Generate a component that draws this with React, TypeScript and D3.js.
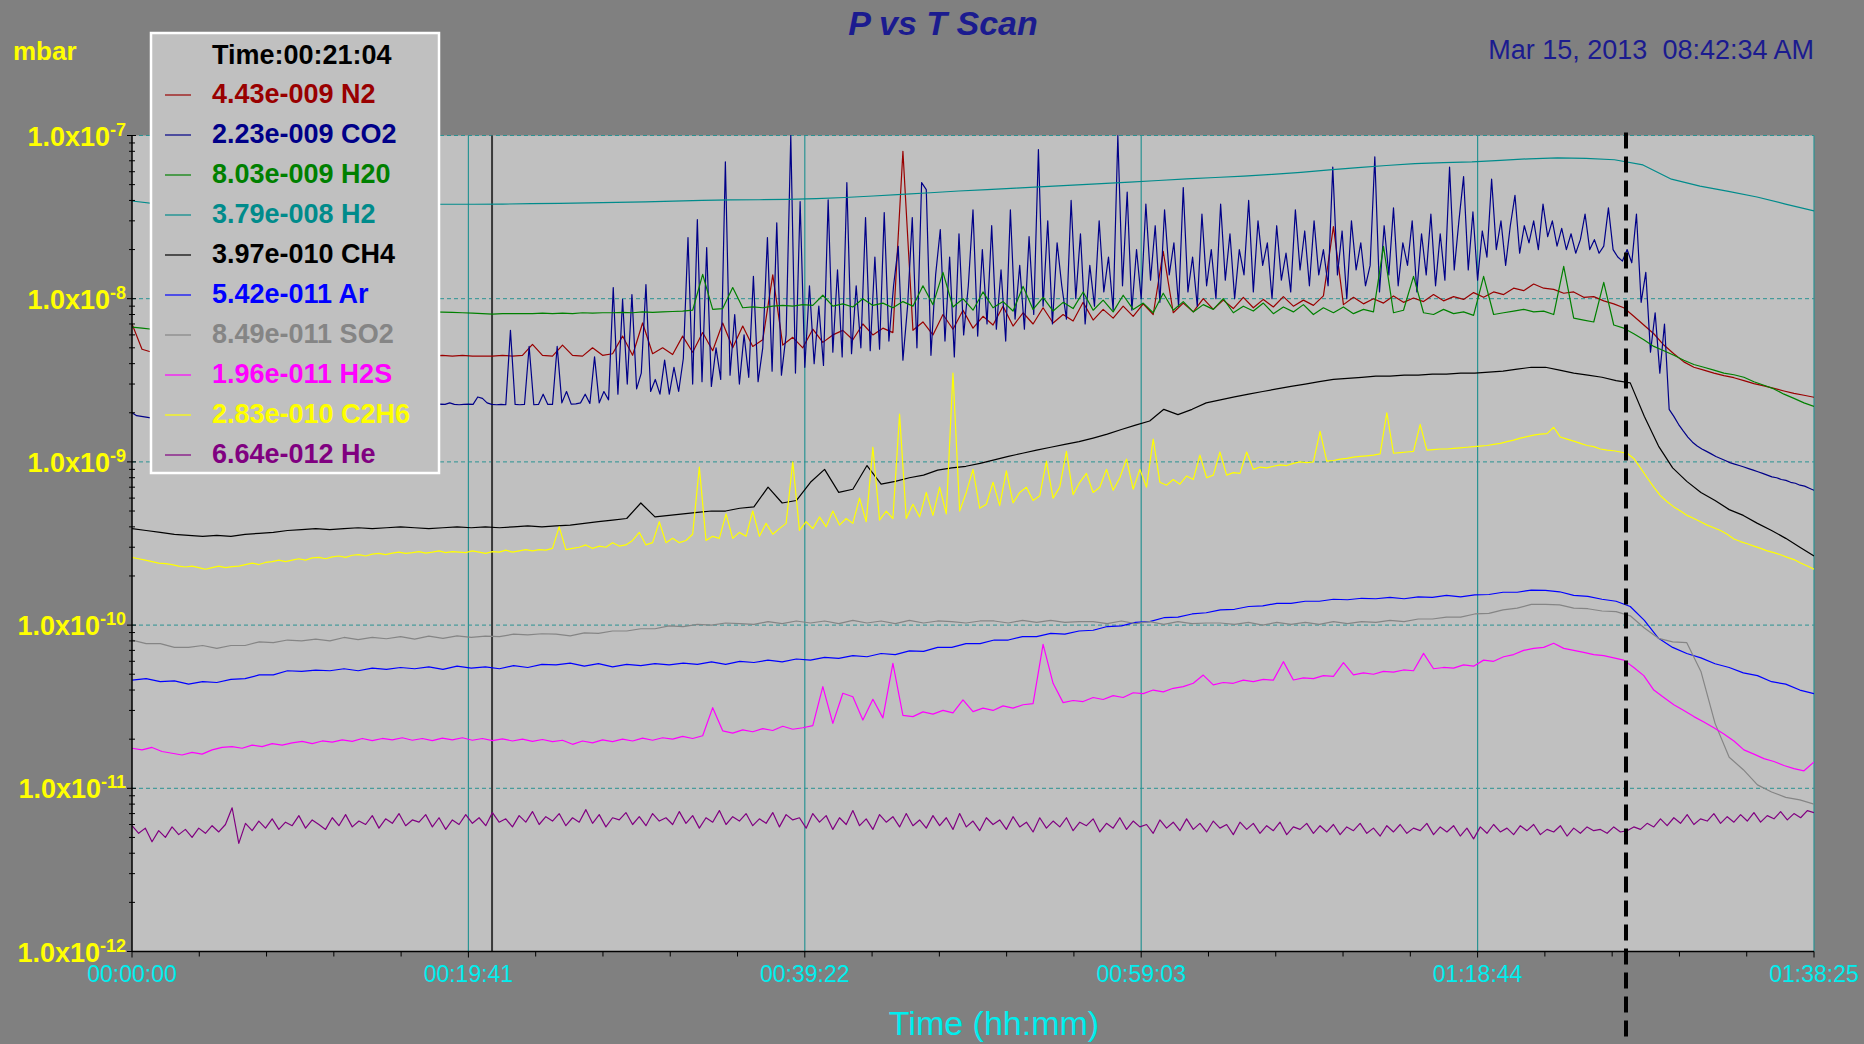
import React from "react"
import * as d3 from "d3"

// scan length and axis labels (hh:mm:ss)
const DURATION_SEC = 5905
const TIME_LABELS = ["00:00:00", "00:19:41", "00:39:22", "00:59:03", "01:18:44", "01:38:25"]
const DECADES = [-7, -8, -9, -10, -11, -12]
const CURSOR_TIME = "00:21:04"
const MARKER_SEC = 5245

// readings shown in the legend at the cursor time
const GASES = ["N2", "CO2", "H20", "H2", "CH4", "Ar", "SO2", "H2S", "C2H6", "He"]
const READINGS = ["4.43e-009", "2.23e-009", "8.03e-009", "3.79e-008", "3.97e-010", "5.42e-011", "8.49e-011", "1.96e-011", "2.83e-010", "6.64e-012"]
const COLORS = ["#990000", "#000088", "#008000", "#008b8b", "#000000", "#0000ff", "#858585", "#ff00ff", "#ffff00", "#800080"]
const UNITS = [1e-9, 1e-9, 1e-9, 1e-8, 1e-10, 1e-11, 1e-11, 1e-11, 1e-10, 1e-12]

// pressures, evenly sampled over the scan, in the unit given above
const N2 = [
  7.0, 4.9, 4.7, 4.8, 4.7, 4.75, 4.7, 4.8, 4.7, 4.65,
  4.7, 4.6, 4.65, 4.6, 4.65, 4.6, 4.55, 4.6, 4.55, 4.6,
  4.55, 4.6, 4.55, 4.5, 4.55, 4.5, 4.55, 4.5, 4.45, 4.5,
  4.45, 4.5, 4.45, 4.5, 4.45, 4.45, 4.45, 4.5, 4.45, 4.5,
  5.25, 4.5, 4.45, 5.2, 4.5, 4.45, 5.0, 4.5, 4.6, 5.9,
  4.5, 7.1, 4.6, 5.0, 4.55, 5.9, 4.7, 6.2, 4.8, 7.1,
  5.0, 6.8, 5.1, 5.6, 14, 5.2, 5.8, 5.0, 6.5, 5.4,
  6.0, 6.4, 5.6, 7.0, 6.0, 6.6, 6.2, 80, 6.4, 7.2,
  6.0, 8.0, 6.5, 8.5, 6.6, 7.8, 6.9, 9.0, 6.8, 8.2,
  7.0, 8.8, 7.1, 8.0, 7.3, 9.5, 7.4, 8.6, 7.6, 9.0,
  7.8, 9.3, 8.0, 19.5, 8.2, 9.4, 8.3, 10.0, 8.6, 9.8,
  8.7, 10.2, 8.8, 9.9, 8.9, 10.3, 9.0, 9.8, 9.1, 10.4,
  27.7, 9.2, 10.2, 9.3, 10.0, 9.4, 10.4, 9.5, 10.1, 9.6,
  10.6, 9.7, 10.3, 9.9, 10.9, 10.2, 11.0, 10.6, 11.6, 11.2,
  12.3, 11.6, 11.4, 10.8, 11.0, 10.2, 10.3, 9.7, 9.3, 8.8,
  7.8, 6.9, 6.1, 5.2, 4.6, 4.1, 3.8, 3.65, 3.5, 3.38,
  3.28, 3.15, 3.02, 2.92, 2.82, 2.72, 2.63, 2.56, 2.49,
]

const CO2 = [
  2.0, 1.92, 1.9, 1.88, 1.86, 1.84, 1.83, 1.84, 1.85, 1.86,
  1.88, 1.9, 1.91, 1.92, 1.94, 1.95, 1.97, 1.98, 2.0, 2.01,
  2.02, 2.03, 2.04, 2.06, 2.07, 2.08, 2.1, 2.11, 2.12, 2.13,
  2.14, 2.15, 2.16, 2.17, 2.18, 2.18, 2.19, 2.2, 2.2, 2.21,
  2.21, 2.22, 2.22, 2.23, 2.23, 2.23, 2.24, 2.24, 2.24, 2.25,
  2.25, 2.24, 2.25, 2.25, 2.24, 2.25, 2.26, 2.25, 2.25, 2.24,
  2.25, 2.26, 2.25, 2.25, 2.24, 2.25, 2.26, 2.25, 2.3, 2.25,
  2.24, 2.25, 2.26, 2.25, 2.5, 2.45, 2.3, 2.25, 2.24, 2.25,
  2.24, 6.4, 2.25, 2.24, 2.25, 5.1, 2.24, 2.25, 2.6, 2.25,
  2.25, 5.1, 2.3, 2.7, 2.26, 2.27, 2.3, 2.6, 2.28, 4.4,
  2.3, 2.7, 2.4, 11.7, 2.6, 9.9, 3.0, 10.6, 2.8, 3.5,
  12.2, 2.7, 3.2, 2.6, 4.2, 2.6, 3.8, 2.7, 4.3, 23.7,
  3.0, 30.5, 3.1, 20.6, 2.9, 5.0, 3.2, 69, 3.4, 8.0,
  3.0, 6.0, 3.3, 13.7, 3.1, 5.0, 23.7, 3.6, 29.2, 3.4,
  6.0, 100, 3.5, 39.3, 3.8, 12, 4.0, 9.0, 3.9, 40.4,
  4.7, 15, 4.4, 51.4, 4.6, 12, 5.0, 31.4, 4.8, 18,
  4.9, 33.7, 5.5, 12, 20.9, 4.2, 9, 31.4, 5.0, 51.4,
  46.6, 4.5, 14, 26.5, 5.5, 18, 4.4, 25, 6.0, 12,
  35, 5.9, 20, 7.0, 28, 6.5, 15, 5.5, 35, 7.5,
  16, 6.5, 24, 8, 82, 9, 30, 7, 22, 12,
  7.5, 40, 10, 25, 7, 16, 9, 30, 11, 18,
  8.5, 100, 12, 45, 8.5, 20, 10, 38, 13, 28,
  9.5, 35, 14, 22, 9, 48, 11, 18, 9, 33,
  12, 20, 10, 38, 13, 25, 10, 20, 14, 40,
  11, 30, 16, 22, 10, 28, 13, 19, 11, 35,
  15, 26, 12, 30, 14, 20, 12, 64, 14, 26,
  10, 30, 15, 22, 12, 16, 74, 11, 28, 14,
  36, 12, 22, 16, 30, 11, 25, 14, 33, 12,
  25, 13, 64, 15, 30, 56, 15, 34, 13, 26,
  18, 54, 20, 30, 16, 28, 43, 19, 28, 22,
  30, 20, 38, 24, 30, 21, 27, 20, 25, 19,
  23, 33, 20, 23, 19, 21, 36, 20, 18, 17,
  20, 16.6, 33, 9.5, 14.5, 4.7, 8.2, 3.5, 7.0, 2.1,
  1.9, 1.7, 1.55, 1.42, 1.32, 1.25, 1.2, 1.16, 1.12, 1.08,
  1.05, 1.02, 0.99, 0.97, 0.95, 0.93, 0.91, 0.89, 0.87, 0.85,
  0.83, 0.81, 0.8, 0.78, 0.77, 0.75, 0.74, 0.72, 0.71, 0.69,
  0.67,
]

const H2O = [
  6.7, 6.6, 6.5, 6.6, 6.7, 6.8, 6.9, 7.0, 7.1, 7.2,
  7.3, 7.4, 7.5, 7.6, 7.7, 7.8, 7.9, 8.0, 8.05, 8.1,
  8.1, 8.15, 8.2, 8.2, 8.25, 8.25, 8.3, 8.3, 8.3, 8.3,
  8.3, 8.28, 8.25, 8.2, 8.15, 8.1, 8.05, 8.1, 8.1, 8.1,
  8.1, 8.15, 8.1, 8.15, 8.1, 8.2, 8.15, 8.2, 8.2, 8.25,
  8.2, 8.3, 8.25, 8.3, 8.35, 8.4, 8.5, 14.1, 8.6, 8.7,
  11.7, 8.8, 8.9, 8.8, 9.0, 9.1, 9.0, 9.2, 9.1, 10.5,
  9.0, 9.3, 8.9, 10.0, 9.1, 9.4, 8.8, 9.6, 9.0, 12.0,
  9.2, 14.5, 8.9, 10.0, 8.5, 11.0, 8.8, 9.6, 8.4, 11.9,
  8.6, 10.2, 8.4, 9.5, 8.7, 11.0, 8.5, 9.8, 8.3, 10.5,
  8.6, 9.4, 8.2, 10.8, 8.5, 9.6, 8.3, 9.2, 8.6, 10.0,
  8.2, 9.0, 8.4, 9.4, 8.1, 8.9, 8.3, 9.2, 8.0, 8.8,
  8.2, 8.9, 8.1, 8.6, 8.3, 20.9, 8.2, 8.5, 13.7, 8.2,
  8.0, 8.6, 8.1, 8.3, 7.9, 13.7, 8.0, 8.2, 8.4, 8.6,
  8.3, 8.4, 8.0, 15.8, 7.6, 7.4, 7.2, 12.6, 6.9, 6.6,
  6.1, 5.6, 5.1, 4.8, 4.5, 4.2, 3.95, 3.8, 3.65, 3.5,
  3.42, 3.3, 3.1, 2.95, 2.8, 2.6, 2.45, 2.3, 2.19,
]

const H2 = [
  3.97, 3.78, 3.74, 3.75, 3.76, 3.76, 3.77, 3.77, 3.78, 3.78,
  3.79, 3.79, 3.79, 3.8, 3.82, 3.84, 3.86, 3.89, 3.92, 3.96,
  4.0, 4.03, 4.04, 4.06, 4.1, 4.17, 4.26, 4.36, 4.46, 4.57,
  4.66, 4.76, 4.86, 4.96, 5.07, 5.18, 5.3, 5.42, 5.53, 5.64,
  5.78, 5.95, 6.15, 6.35, 6.55, 6.72, 6.82, 6.9, 7.05, 7.2,
  7.3, 7.25, 7.1, 6.6, 5.4, 4.9, 4.55, 4.2, 3.8, 3.45,
]

const CH4 = [
  3.9, 3.8, 3.7, 3.6, 3.55, 3.5, 3.55, 3.5, 3.6, 3.65,
  3.7, 3.8, 3.85, 3.9, 3.85, 3.9, 3.95, 3.9, 3.95, 4.0,
  3.95, 3.9, 3.95, 4.0, 3.95, 4.0, 3.95, 4.0, 4.05, 4.0,
  4.05, 4.1, 4.2, 4.3, 4.4, 4.5, 5.6, 4.6, 4.7, 4.8,
  4.9, 5.0, 5.0, 5.2, 5.3, 7.0, 5.6, 5.8, 7.5, 9.0,
  6.5, 6.8, 9.5, 7.3, 7.6, 8.0, 8.3, 8.9, 9.2, 9.4,
  9.8, 10.3, 10.8, 11.3, 11.8, 12.3, 12.8, 13.3, 14.0, 14.8,
  15.8, 16.8, 17.8, 21, 19.5, 21, 23, 24, 25, 26,
  27, 28, 29, 30, 31, 32, 32.5, 33, 33.5, 33.5,
  34, 34, 34.5, 34.5, 35, 35, 35.5, 36, 37, 38,
  38, 36.5, 35, 34, 33, 31.5, 30.5, 19, 12.5, 9.2,
  7.6, 6.5, 5.8, 5.1, 4.7, 4.2, 3.8, 3.4, 3.0, 2.65,
]

const AR = [
  4.6, 4.7, 4.5, 4.55, 4.35, 4.5, 4.45, 4.65, 4.7, 4.95,
  4.95, 5.25, 5.2, 5.3, 5.25, 5.4, 5.25, 5.45, 5.35, 5.5,
  5.4, 5.55, 5.35, 5.6, 5.45, 5.55, 5.4, 5.65, 5.5, 5.75,
  5.7, 5.85, 5.6, 5.8, 5.55, 5.75, 5.65, 5.8, 5.7, 5.85,
  5.75, 5.95, 5.75, 6.0, 5.9, 6.1, 5.95, 6.2, 6.1, 6.35,
  6.25, 6.5, 6.4, 6.7, 6.6, 6.95, 6.9, 7.3, 7.3, 7.7,
  7.7, 8.1, 8.1, 8.5, 8.5, 8.9, 8.8, 9.2, 9.3, 9.8,
  9.9, 10.4, 10.5, 11.1, 11.2, 11.7, 11.9, 12.4, 12.5, 13.0,
  13.1, 13.6, 13.6, 14.0, 14.0, 14.4, 14.3, 14.6, 14.5, 14.8,
  14.5, 14.9, 14.8, 15.2, 14.9, 15.3, 15.4, 15.9, 15.9, 16.4,
  16.3, 16.0, 15.2, 15.0, 14.4, 14.0, 13.0, 10.7, 8.3, 7.3,
  6.7, 6.3, 5.8, 5.5, 5.1, 4.9, 4.5, 4.35, 4.0, 3.8,
]

const SO2 = [
  8.1, 7.7, 7.7, 7.3, 7.3, 7.5, 7.2, 7.5, 7.5, 7.9,
  7.8, 8.1, 8.0, 8.2, 8.0, 8.4, 8.15, 8.4, 8.25, 8.5,
  8.2, 8.55, 8.3, 8.6, 8.4, 8.55, 8.5, 8.8, 8.7, 8.85,
  8.8, 8.6, 8.95, 8.9, 9.2, 9.2, 9.5, 9.5, 9.9, 9.8,
  10.1, 10.0, 10.3, 10.2, 10.1, 10.5, 10.2, 10.6, 10.3, 10.6,
  10.2, 10.7, 10.3, 10.6, 10.2, 10.7, 10.3, 10.6, 10.5, 10.3,
  10.6, 10.6, 10.3, 10.7, 10.4, 10.7, 10.4, 10.5, 10.5, 10.2,
  10.6, 10.2, 10.5, 10.1, 10.5, 10.2, 10.3, 10.3, 10.1, 10.4,
  10.0, 10.4, 10.1, 10.4, 10.1, 10.5, 10.2, 10.5, 10.4, 10.7,
  10.5, 10.9, 10.9, 11.2, 11.2, 11.7, 11.8, 12.4, 12.7, 13.4,
  13.4, 13.3, 12.7, 12.6, 12.2, 12.1, 11.4, 9.6, 8.3, 7.9,
  7.8, 5.2, 2.5, 1.55, 1.3, 1.05, 0.95, 0.88, 0.85, 0.8,
]

const H2S = [
  1.76, 1.72, 1.78, 1.68, 1.64, 1.6, 1.66, 1.62, 1.72, 1.78,
  1.8, 1.76, 1.84, 1.8, 1.88, 1.84, 1.9, 1.94, 1.88, 1.95,
  1.92, 1.98, 1.94, 2.02, 1.96, 2.02, 1.98, 2.04, 1.97, 2.02,
  1.96, 2.03, 1.98, 2.04, 1.97, 2.02, 1.96, 2.01, 1.95, 2.0,
  1.94, 1.99, 1.93, 1.97, 1.86, 1.95, 1.9, 1.98, 1.93, 2.0,
  1.95, 2.03, 1.97, 2.04, 2.0, 2.08, 2.02, 2.1, 3.12, 2.25,
  2.18, 2.28, 2.22, 2.32, 2.26, 2.4, 2.3, 2.35, 2.42, 4.2,
  2.5, 3.82, 3.64, 2.62, 3.51, 2.7, 5.83, 2.8, 2.75, 2.94,
  2.85, 3.0, 2.9, 3.48, 2.95, 3.1, 3.0, 3.2, 3.1, 3.25,
  3.3, 7.62, 4.4, 3.35, 3.45, 3.4, 3.6, 3.5, 3.7, 3.6,
  3.85, 3.8, 4.0, 3.9, 4.1, 4.2, 4.4, 4.94, 4.3, 4.45,
  4.4, 4.6, 4.5, 4.65, 4.6, 5.97, 4.61, 4.75, 4.7, 4.9,
  4.85, 5.89, 4.95, 5.1, 5.0, 5.2, 5.15, 5.31, 5.25, 6.71,
  5.4, 5.5, 5.45, 5.7, 5.6, 6.1, 6.0, 6.4, 6.6, 7.0,
  7.2, 7.3, 7.74, 7.2, 7.0, 6.8, 6.6, 6.5, 6.3, 6.1,
  5.5, 4.9, 4.0, 3.6, 3.25, 3.0, 2.75, 2.55, 2.35, 2.15,
  1.95, 1.72, 1.62, 1.52, 1.46, 1.38, 1.32, 1.28, 1.45,
]

const C2H6 = [
  2.6, 2.55, 2.5, 2.45, 2.4, 2.38, 2.35, 2.3, 2.27, 2.3,
  2.25, 2.2, 2.25, 2.3, 2.25, 2.28, 2.3, 2.35, 2.4, 2.35,
  2.42, 2.45, 2.5, 2.45, 2.5, 2.55, 2.5, 2.58, 2.6, 2.55,
  2.62, 2.65, 2.6, 2.68, 2.7, 2.65, 2.72, 2.75, 2.7, 2.76,
  2.8, 2.75, 2.78, 2.82, 2.76, 2.8, 2.85, 2.78, 2.82, 2.8,
  2.78, 2.85, 2.8, 2.75, 2.82, 2.8, 2.88, 2.8, 2.85, 2.9,
  2.85, 2.9, 2.88, 2.95, 4.0, 2.9, 2.95, 3.0, 3.1, 2.95,
  3.05, 3.0, 3.2, 3.05, 3.1, 3.3, 3.7, 3.1, 3.2, 4.3,
  3.2, 3.4, 3.2, 3.3, 3.6, 9.3, 3.3, 3.5, 3.4, 4.8,
  3.4, 3.7, 3.5, 5.0, 3.5, 4.2, 3.6, 3.9, 4.2, 10.0,
  3.8, 4.3, 3.9, 4.6, 4.0, 5.0, 4.1, 4.5, 4.2, 6.0,
  4.3, 12.3, 4.4, 5.0, 4.5, 19.6, 4.5, 5.5, 4.6, 6.5,
  4.7, 7.0, 4.8, 35, 5.0, 6.5, 9.0, 5.2, 5.5, 7.5,
  5.4, 8.8, 5.6, 6.5, 7.0, 5.8, 6.2, 10.1, 6.0, 7.0,
  11.6, 6.3, 7.5, 8.5, 6.5, 7.0, 9.0, 6.7, 8.0, 10.4,
  6.8, 9.0, 7.0, 13.8, 7.5, 7.2, 7.8, 7.3, 8.2, 7.8,
  11.0, 8.0, 8.3, 11.5, 8.3, 8.6, 8.5, 11.5, 9.0, 9.3,
  9.2, 9.4, 9.6, 9.5, 9.8, 10.0, 9.9, 10.0, 15.4, 10.1,
  10.2, 10.4, 10.5, 10.7, 10.8, 10.9, 11.0, 11.2, 20.0, 11.3,
  11.4, 11.5, 11.6, 17.0, 11.8, 11.9, 12.0, 12.0, 12.1, 12.2,
  12.3, 12.4, 12.5, 12.6, 12.8, 13.0, 13.3, 13.6, 14.0, 14.3,
  14.6, 14.8, 14.9, 16.3, 14.2, 13.8, 13.4, 13.0, 12.6, 12.4,
  12.0, 11.8, 11.7, 11.5, 11.3, 10.5, 9.2, 8.0, 7.0, 6.2,
  5.7, 5.3, 5.0, 4.7, 4.5, 4.3, 4.1, 3.95, 3.8, 3.6,
  3.37, 3.25, 3.15, 3.05, 2.95, 2.85, 2.78, 2.7, 2.6, 2.52,
  2.4, 2.3, 2.2,
]

const HE = [
  5.9, 5.3, 5.7, 4.7, 5.5, 5.0, 5.8, 5.2, 5.6, 5.0,
  5.7, 5.3, 5.9, 5.4, 6.0, 7.6, 4.6, 6.1, 5.5, 6.3,
  5.7, 6.5, 5.6, 6.2, 5.9, 6.8, 5.7, 6.4, 6.0, 5.6,
  6.6, 5.9, 6.9, 5.8, 6.3, 6.0, 6.8, 5.7, 6.5, 6.1,
  7.0, 5.9, 6.4, 6.2, 6.9, 5.8, 6.6, 5.6, 6.4, 6.0,
  6.9, 6.1, 6.6, 5.9, 7.1, 6.2, 6.5, 5.8, 6.8, 6.2,
  7.2, 6.0, 6.7, 6.3, 7.0, 5.9, 6.6, 6.2, 7.4, 6.1,
  6.9, 5.8, 6.6, 6.4, 7.1, 6.0, 6.7, 5.9, 7.0, 6.3,
  6.6, 6.0, 7.2, 6.1, 6.8, 5.7, 6.6, 6.2, 7.3, 6.0,
  6.7, 6.3, 7.0, 5.9, 6.5, 6.1, 7.1, 5.8, 6.9, 6.4,
  6.6, 5.7, 7.0, 6.2, 6.8, 5.6, 6.6, 6.0, 7.3, 5.9,
  6.5, 5.6, 6.9, 6.2, 6.7, 5.8, 7.0, 5.9, 6.4, 5.7,
  6.8, 5.9, 6.6, 5.6, 7.0, 5.8, 6.3, 5.5, 6.6, 6.0,
  6.4, 5.6, 6.7, 5.8, 6.2, 5.4, 6.6, 5.7, 6.3, 5.8,
  6.6, 5.5, 6.2, 5.9, 6.5, 5.4, 6.1, 5.7, 6.6, 5.6,
  6.3, 5.8, 6.0, 5.3, 6.4, 5.7, 6.2, 5.5, 6.5, 5.6,
  6.1, 5.4, 6.3, 5.7, 6.0, 5.2, 6.2, 5.6, 6.1, 5.3,
  5.9, 5.5, 6.2, 5.2, 5.8, 5.6, 6.1, 5.3, 5.9, 5.4,
  6.0, 5.2, 5.8, 5.5, 6.1, 5.3, 5.7, 5.1, 5.9, 5.4,
  6.0, 5.3, 5.7, 5.5, 6.1, 5.2, 5.8, 5.4, 5.9, 5.1,
  5.7, 4.9, 5.8, 5.3, 6.0, 5.4, 5.7, 5.2, 5.9, 5.5,
  6.0, 5.2, 5.6, 5.4, 5.9, 5.1, 5.7, 5.3, 5.8, 5.5,
  5.6, 5.3, 5.8, 5.4, 5.5, 5.8, 5.6, 6.1, 5.8, 6.5,
  5.9, 6.6, 6.1, 6.9, 6.0, 6.5, 6.3, 7.0, 6.1, 6.7,
  6.2, 6.9, 6.3, 7.1, 6.2, 6.8, 6.5, 7.2, 6.4, 7.0,
  6.6, 7.3, 7.1,
]

const VALUES = [N2, CO2, H2O, H2, CH4, AR, SO2, H2S, C2H6, HE]

const FONT = "'Liberation Sans', Arial, Helvetica, sans-serif"
const TEAL = "#2a9393"
const CYAN = "#00eeee"

const toSec = (s: string) => {
  const [h, m, sec] = s.split(":").map(Number)
  return h * 3600 + m * 60 + sec
}

export default function App() {
  const width = 1864
  const height = 1044
  const left = 132
  const right = 1814
  const top = 135.5
  const bottom = 951.5

  const x = d3.scaleLinear().domain([0, DURATION_SEC]).range([left, right])
  const y = d3.scaleLog().domain([1e-12, 1e-7]).range([bottom, top])

  const majorTimes = TIME_LABELS.map(toSec)
  const minorTimes = d3.range(0, 26).map(i => (i * DURATION_SEC) / 25)
  const yTicks = y.ticks()
  const isDecade = (v: number) => Math.abs(Math.log10(v) - Math.round(Math.log10(v))) < 1e-6

  const series = GASES.map((gas, k) => {
    const vals = VALUES[k]
    const n = vals.length
    const line = d3
      .line<number>()
      .x((_, i) => x((i * DURATION_SEC) / (n - 1)))
      .y(v => y(v * UNITS[k]))
    return { gas, color: COLORS[k], reading: READINGS[k], path: line(vals) || "" }
  })

  const cursorX = x(toSec(CURSOR_TIME))
  const markerX = x(MARKER_SEC)

  return (
    <svg
      width={width}
      height={height}
      style={{ position: "absolute", left: 0, top: 0, display: "block" }}
      fontFamily={FONT}
    >
      <defs>
        <clipPath id="plotClip">
          <rect x={left} y={top - 1} width={right - left} height={bottom - top + 1} />
        </clipPath>
      </defs>
      <rect width={width} height={height} fill="#808080" />
      <rect x={left} y={top} width={right - left} height={bottom - top} fill="#c0c0c0" />

      {/* decade grid */}
      {DECADES.slice(0, 5).map(e => (
        <line key={e} x1={left} x2={right} y1={y(Math.pow(10, e))} y2={y(Math.pow(10, e))}
          stroke={TEAL} strokeWidth={1} strokeDasharray="4,3" />
      ))}
      {majorTimes.slice(1).map(t => (
        <line key={t} x1={x(t)} x2={x(t)} y1={top} y2={bottom} stroke={TEAL} strokeWidth={1.2} />
      ))}

      {/* legend cursor */}
      <line x1={cursorX} x2={cursorX} y1={top} y2={bottom} stroke="#3a3a3a" strokeWidth={2} />

      <g clipPath="url(#plotClip)" fill="none">
        {series.map(s => (
          <path key={s.gas} d={s.path} stroke={s.color} strokeWidth={1.2} strokeLinejoin="round" />
        ))}
      </g>

      {/* axes */}
      <line x1={left} x2={left} y1={top} y2={bottom} stroke="#000" strokeWidth={1.5} />
      <line x1={left} x2={right} y1={bottom} y2={bottom} stroke="#000" strokeWidth={1.5} />
      {yTicks.map((v, i) => (
        <line key={i} x1={left - (isDecade(v) ? 5 : 3)} x2={left + (isDecade(v) ? 4 : 3)}
          y1={y(v)} y2={y(v)} stroke="#000" strokeWidth={1} />
      ))}
      {minorTimes.map((t, i) => (
        <line key={i} x1={x(t)} x2={x(t)} y1={bottom} y2={bottom + (i % 5 === 0 ? 6 : 5)}
          stroke="#000" strokeWidth={1} />
      ))}

      {/* y labels */}
      {DECADES.map(e => (
        <text key={e} x={126} y={y(Math.pow(10, e)) + 10} textAnchor="end" fill="#ffff00"
          fontWeight="bold" fontSize={27}>
          <tspan>1.0x10</tspan>
          <tspan dy={-10} fontSize={18}>{e}</tspan>
        </text>
      ))}
      <text x={13} y={60} fill="#ffff00" fontWeight="bold" fontSize={26}>mbar</text>

      {/* x labels */}
      {TIME_LABELS.map((lab, i) => (
        <text key={lab} x={x(majorTimes[i])} y={982} textAnchor="middle" fill={CYAN} fontSize={23}>
          {lab}
        </text>
      ))}
      <text x={994} y={1035} textAnchor="middle" fill={CYAN} fontSize={34}>Time (hh:mm)</text>

      {/* titles */}
      <text x={943} y={35} textAnchor="middle" fill="#1b1b8f" fontSize={34} fontWeight="bold"
        fontStyle="italic">P vs T Scan</text>
      <text x={1814} y={59} textAnchor="end" fill="#1b1b8f" fontSize={27} style={{ whiteSpace: "pre" }}>
        {"Mar 15, 2013  08:42:34 AM"}
      </text>

      {/* marker */}
      <line x1={markerX} x2={markerX} y1={top - 3} y2={height} stroke="#000" strokeWidth={4}
        strokeDasharray="16,8" />

      {/* legend */}
      <rect x={151} y={33} width={288} height={440} fill="#c0c0c0" stroke="#ffffff" strokeWidth={2.5} />
      <text x={212} y={64} fontSize={27} fontWeight="bold" fill="#000">{"Time:" + CURSOR_TIME}</text>
      {series.map((s, k) => (
        <g key={s.gas} transform={`translate(0, ${103 + k * 40})`}>
          <line x1={165} x2={191} y1={-8} y2={-8} stroke={s.color} strokeWidth={1.2} />
          <text x={212} y={0} fontSize={27} fontWeight="bold" fill={s.color}>
            {s.reading + " " + s.gas}
          </text>
        </g>
      ))}
    </svg>
  )
}
